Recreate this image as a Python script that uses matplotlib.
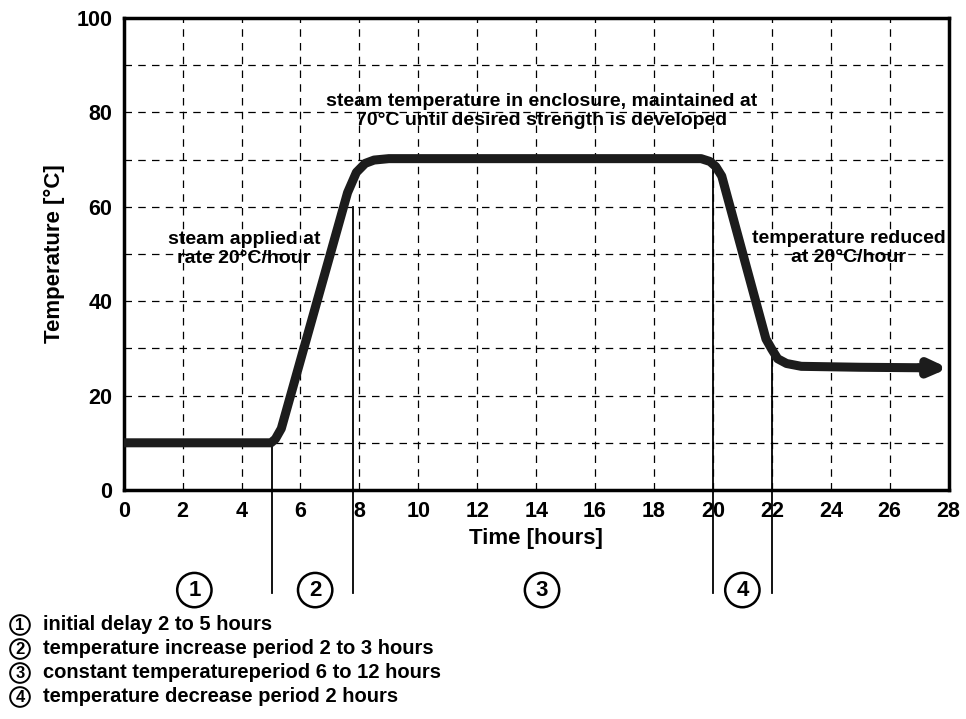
import numpy as np
import matplotlib.pyplot as plt

plt.rcParams['font.family'] = ['Liberation Sans', 'DejaVu Sans']
plt.rcParams['font.weight'] = 'bold'

# curve of the steam curing cycle
time_h = [0, 5.0, 5.15, 5.35, 7.6, 7.9, 8.2, 8.5, 9.0, 19.6, 19.9, 20.1, 20.3,
          21.8, 22.0, 22.2, 22.5, 23.0, 25.0, 27.0]
temp_c = [10, 10, 10.8, 13, 63, 67.3, 69.2, 69.9, 70.2, 70.2, 69.6, 68.5, 66.5,
          32, 29.8, 27.8, 26.8, 26.2, 26.0, 25.9]
arrow_end = (28.0, 25.8)

# phase boundaries (time, where the line starts on the curve)
phase_x = [5.05, 7.8, 20.0, 22.0]
phase_top = [10, 60, 70, 30]
phase_labels = ['1', '2', '3', '4']
phase_label_x = [2.4, 6.5, 14.2, 21.0]

legend_lines = [
    ('1', 'initial delay 2 to 5 hours'),
    ('2', 'temperature increase period 2 to 3 hours'),
    ('3', 'constant temperatureperiod 6 to 12 hours'),
    ('4', 'temperature decrease period 2 hours'),
]

fig = plt.figure(figsize=(9.66, 7.19), dpi=100)
ax = fig.add_axes([0.128, 0.3185, 0.854, 0.6565])

ax.set_xlim(0, 28)
ax.set_ylim(0, 100)
ax.set_xticks(np.arange(0, 29, 2))
ax.set_yticks(np.arange(0, 101, 20))
ax.set_yticks(np.arange(0, 101, 10), minor=True)
ax.grid(True, which='both', color='black', linestyle=(0, (6, 5)), linewidth=0.9)
ax.tick_params(which='both', length=0, labelsize=15.5)
ax.tick_params(axis='x', pad=8)
ax.tick_params(axis='y', pad=8)
for lab in ax.get_xticklabels() + ax.get_yticklabels():
    lab.set_fontweight('bold')
for sp in ax.spines.values():
    sp.set_linewidth(2.5)

ax.set_xlabel('Time [hours]', fontsize=16, fontweight='bold', labelpad=4)
ax.set_ylabel('Temperature [°C]', fontsize=16, fontweight='bold', labelpad=8)

# main curve
ax.plot(time_h, temp_c, color='#1c1c1c', linewidth=6.5, solid_capstyle='butt',
        solid_joinstyle='round', zorder=4)
ax.annotate('', xy=arrow_end, xytext=(time_h[-1], temp_c[-1]),
            arrowprops=dict(arrowstyle='-|>,head_length=1.0,head_width=0.45',
                            color='#1c1c1c', lw=6.5, shrinkA=0, shrinkB=0),
            annotation_clip=False, zorder=5)

# phase boundary lines running below the axes
for x, top in zip(phase_x, phase_top):
    ax.plot([x, x], [top, -21.8], color='black', linewidth=1.3, clip_on=False, zorder=3)

for x, lab in zip(phase_label_x, phase_labels):
    ax.text(x, -21.2, lab, ha='center', va='center', fontsize=16, fontweight='bold',
            clip_on=False,
            bbox=dict(boxstyle='circle,pad=0.3', facecolor='white', edgecolor='black', linewidth=1.8))

# annotations
ax.text(14.2, 80.3, 'steam temperature in enclosure, maintained at\n70°C until desired strength is developed',
        ha='center', va='center', fontsize=14, fontweight='bold', linespacing=1.15)
ax.text(4.08, 51.0, 'steam applied at\nrate 20°C/hour', ha='center', va='center',
        fontsize=14, fontweight='bold', linespacing=1.15)
ax.text(24.6, 51.3, 'temperature reduced\nat 20°C/hour', ha='center', va='center',
        fontsize=14, fontweight='bold', linespacing=1.15)

# legend of phases at the bottom
row_px = [625, 649, 673, 697]
for (num, txt), ypx in zip(legend_lines, row_px):
    y = 1 - ypx / 719
    fig.text(20 / 966, y, num, ha='center', va='center', fontsize=12, fontweight='bold',
             bbox=dict(boxstyle='circle,pad=0.14', facecolor='white', edgecolor='black', linewidth=1.4))
    fig.text(43 / 966, y, txt, ha='left', va='center', fontsize=14.5, fontweight='bold')

fig.savefig('out.png', dpi=100)
